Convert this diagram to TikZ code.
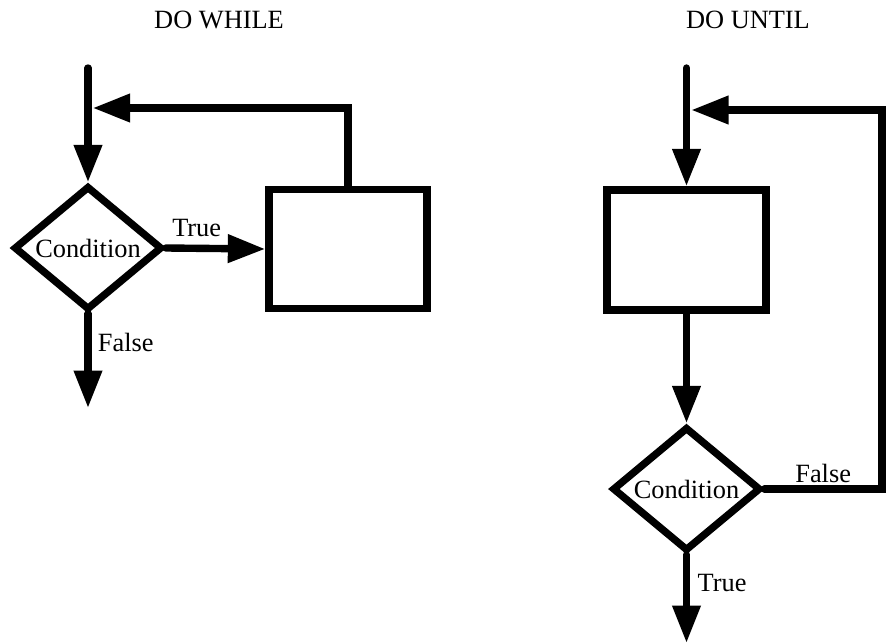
\documentclass[tikz,border=0pt]{standalone}
\usepackage{fontspec}
\setmainfont{Liberation Serif}
\usetikzlibrary{arrows.meta,shapes.geometric}

\begin{document}
\begin{tikzpicture}[x=0.3cm,y=-0.3cm,
    font=\fontsize{22.5pt}{26pt}\selectfont,
    flow/.style={line width=6.3pt,line cap=round,-{Triangle[length=32pt,width=23pt]}},
    decision/.style={diamond,draw,line width=6.3pt,inner sep=0pt,minimum width=4.45cm,minimum height=3.32cm},
    block/.style={rectangle,draw,line width=6.3pt,minimum width=4.74cm,minimum height=3.58cm},
    lbl/.style={inner sep=0pt,outer sep=0pt}]
    \useasboundingbox (0,0) rectangle (88.6,64.4);
    \node (twhile) at (21.9,2.0) {DO WHILE};
    \node (tuntil) at (74.8,2.0) {DO UNTIL};

    % do while
    \coordinate (sw) at (8.8,6.8);
    \coordinate (jw) at (8.8,10.8);
    \coordinate (ew) at (8.8,40.8);
    \node[decision] (dw) at (8.8,24.8) {Condition};
    \node[block] (bw) at (34.8,24.9) {};
    \draw[flow] (sw) -- (dw);
    \draw[flow] (dw.east) -- node[lbl,pos=0.31,above=10pt] {True} (bw.west);
    \draw[flow] (bw.north) |- ([xshift=4pt]jw);
    \draw[flow] (dw.south) -- node[lbl,pos=0.31,right=8.5pt] {False} (ew);

    % do until
    \coordinate (su) at (68.65,6.8);
    \coordinate (ju) at (68.65,11.0);
    \coordinate (cu) at (88.2,48.9);
    \coordinate (eu) at (68.65,64.3);
    \node[block,minimum width=4.77cm,minimum height=3.6cm] (bu) at (68.65,25.0) {};
    \node[decision,minimum height=3.42cm] (du) at (68.65,48.9) {Condition};
    \draw[flow] (su) -- (bu);
    \draw[flow] (bu) -- (du);
    \draw[flow] (du.east) -- node[lbl,above=5pt] {False} (cu) |- ([xshift=4pt]ju);
    \draw[flow] (du.south) -- node[lbl,pos=0.32,right=9.5pt] {True} (eu);
\end{tikzpicture}
\end{document}
